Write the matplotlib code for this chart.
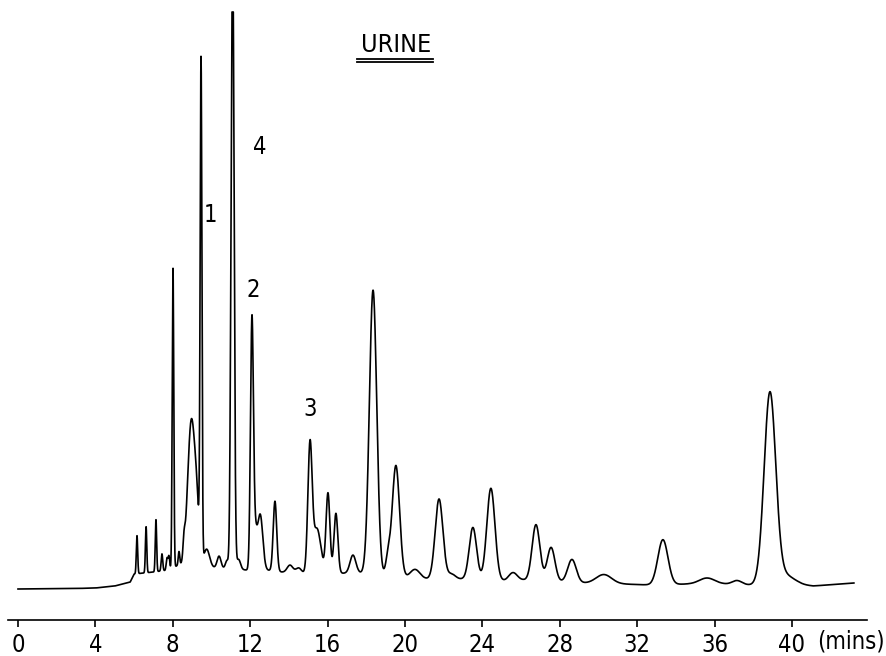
import numpy as np
import matplotlib
matplotlib.use("Agg")
import matplotlib.pyplot as plt

plt.rcParams["font.family"] = ["DejaVu Sans"]
plt.rcParams["font.stretch"] = "condensed"

# baseline drift of the recorder trace (time in min, response in arbitrary units)
base_t = [0, 3, 4, 5, 5.8, 6.0, 7.0, 7.8, 8.2, 9.0, 10.3, 11.8, 12.8, 14.4,
          17.6, 19.0, 21.2, 23.0, 25.2, 26.1, 29.2, 31.2, 32.7, 34.7, 36.4,
          37.9, 40.3, 41.1, 43.2]
base_level = [0, 0.5, 1, 3, 7, 15, 17, 19, 23, 23, 21, 19, 19, 15,
              16, 12, 10, 10, 8, 9, 6, 5, 4, 5, 5, 4, 4, 3, 6]

# peak table: retention time (min), height, sigma (min)
peak_time = [6.15, 6.62, 7.13, 7.44, 7.70, 7.80, 8.01, 8.32, 8.58, 8.96,
             9.25, 9.46, 9.75, 10.39, 10.80, 11.09, 11.40, 12.09, 12.25, 12.52,
             13.28, 14.06, 14.50, 15.09, 15.45, 16.02, 16.43, 17.31, 18.35,
             19.12, 19.53, 20.52, 21.76, 22.40, 23.51, 24.44, 25.58, 26.77,
             27.55, 28.63, 30.28, 33.33, 35.61, 37.16, 38.86, 39.60]
peak_height = [38, 46, 52, 17, 12, 14, 300, 14, 16, 145,
               40, 495, 18, 12, 8, 640, 10, 245, 35, 55,
               70, 8, 6, 125, 45, 80, 60, 18, 285,
               18, 112, 9, 80, 5, 52, 92, 8, 56,
               34, 23, 9, 45, 6, 4, 190, 10]
peak_width = [0.035, 0.035, 0.035, 0.04, 0.04, 0.04, 0.04, 0.04, 0.05, 0.19,
              0.12, 0.045, 0.15, 0.1, 0.08, 0.075, 0.1, 0.075, 0.1, 0.13,
              0.09, 0.15, 0.15, 0.11, 0.2, 0.1, 0.1, 0.15, 0.19,
              0.12, 0.19, 0.25, 0.2, 0.2, 0.19, 0.21, 0.22, 0.2,
              0.2, 0.22, 0.4, 0.26, 0.4, 0.25, 0.3, 0.5]
pen_limit = 577  # recorder pen hits the top of the chart

tick_times = [0, 4, 8, 12, 16, 20, 24, 28, 32, 36, 40]
tick_labels = ["0", "4", "8", "12", "16", "20", "24", "28", "32", "36", "40"]

# peak labels: (text, time, response)
peak_labels = [("1", 9.92, 374), ("2", 12.14, 299), ("3", 15.09, 180), ("4", 12.5, 442)]

t = np.linspace(0, 43.2, 9000)
signal = np.interp(t, base_t, base_level)
for tp, h, w in zip(peak_time, peak_height, peak_width):
    signal += h * np.exp(-0.5 * ((t - tp) / w) ** 2)
signal = np.minimum(signal, pen_limit)

fig = plt.figure(figsize=(8.86, 6.56), dpi=100)
ax = fig.add_axes([0, 0, 1, 1])
ax.plot(t, signal, color="black", lw=1.2)

ax.set_xlim(-0.93, 44.86)
ax.set_ylim(-67, 589)

for side in ["left", "right", "top"]:
    ax.spines[side].set_visible(False)
ax.spines["bottom"].set_position(("data", -31))
ax.spines["bottom"].set_bounds(-0.52, 43.9)
ax.spines["bottom"].set_linewidth(1.2)
ax.set_yticks([])
ax.set_xticks(tick_times)
ax.set_xticklabels(tick_labels, fontsize=17)
ax.tick_params(axis="x", direction="out", length=5, width=1.2, pad=4)

ax.text(41.3, -53, "(mins)", fontsize=17, ha="left", va="center")

for txt, tx, ty in peak_labels:
    ax.text(tx, ty, txt, fontsize=17, ha="center", va="center")

ax.text(19.53, 544, "URINE", fontsize=18, ha="center", va="center")
ax.plot([17.52, 21.45], [530, 530], color="black", lw=1.3)
ax.plot([17.52, 21.45], [527.5, 527.5], color="black", lw=1.3)

fig.savefig("out.png", dpi=100)
